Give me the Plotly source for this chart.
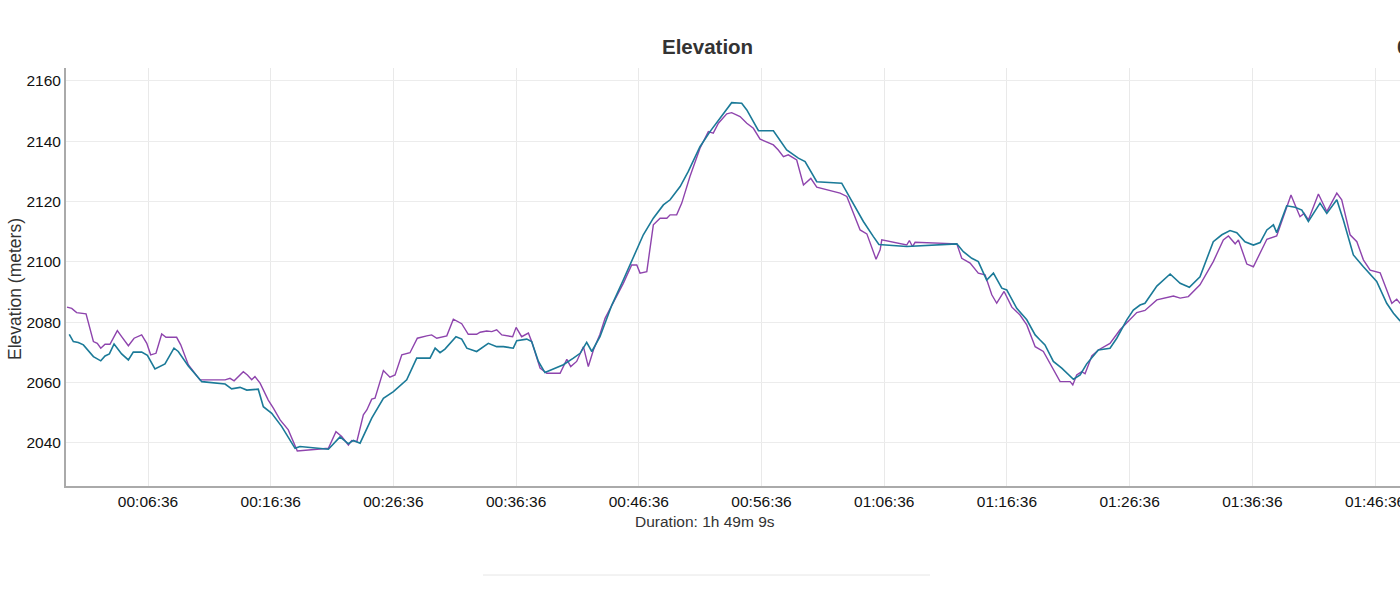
import plotly.graph_objects as go

# Purple series (seconds from start, elevation in meters)
purple_t = [0, 23, 47, 93, 129, 148, 165, 186, 210, 223, 246, 267, 300, 328, 365, 390, 409, 435, 463, 484,
            536, 556, 593, 650, 773, 797, 817, 862, 882, 903, 919, 944, 984, 1009, 1042, 1082, 1126, 1278, 1315,
            1343, 1376, 1392, 1417, 1449, 1466, 1490, 1506, 1547, 1579, 1604, 1637, 1677, 1713, 1759, 1783,
            1808, 1857, 1889, 1930, 1962, 2003, 2020, 2052, 2077, 2101, 2126, 2179, 2196, 2223, 2256, 2272,
            2313, 2346, 2411, 2444, 2463, 2492, 2525, 2549, 2574, 2606, 2631, 2671, 2720, 2761, 2786, 2802,
            2835, 2867, 2900, 2933, 2949, 2981, 3006, 3046, 3095, 3136, 3160, 3185, 3226, 3250, 3291, 3324,
            3356, 3389, 3454, 3478, 3503, 3527, 3568, 3601, 3637, 3666, 3780, 3813, 3829, 3878, 3911, 3935,
            3956, 3976, 3984, 4106, 4119, 4134, 4147, 4351, 4375, 4416, 4456, 4489, 4522, 4546, 4582, 4620,
            4660, 4693, 4734, 4774, 4815, 4856, 4905, 4918, 4937, 4962, 4978, 5011, 5043, 5100, 5149, 5198,
            5231, 5271, 5329, 5410, 5443, 5483, 5540, 5605, 5654, 5679, 5712, 5728, 5769, 5801, 5834, 5867,
            5915, 5948, 5985, 6005, 6029, 6049, 6070, 6119, 6160, 6209, 6233, 6274, 6307, 6339, 6372, 6421,
            6453, 6478, 6502, 6518, 6549]
purple_e = [2085.0, 2084.6, 2083.2, 2082.8, 2073.6, 2073.0, 2071.4, 2072.7, 2072.7, 2074.4, 2077.2, 2075.2,
            2072.2, 2074.7, 2075.8, 2073.0, 2069.2, 2069.7, 2076.1, 2075.0, 2075.0, 2072.5, 2065.9, 2060.9,
            2060.9, 2061.4, 2060.6, 2063.6, 2062.5, 2060.9, 2062.0, 2059.8, 2054.2, 2051.5, 2047.6, 2044.3,
            2037.3, 2038.2, 2043.7, 2042.1, 2039.3, 2040.8, 2040.4, 2049.3, 2050.9, 2054.5, 2054.8, 2064.0,
            2061.8, 2062.5, 2069.2, 2069.9, 2074.7, 2075.5, 2075.8, 2074.7, 2075.5, 2081.0, 2079.5, 2076.0,
            2076.0, 2076.7, 2077.1, 2076.9, 2077.5, 2075.8, 2075.2, 2078.3, 2075.2, 2076.4, 2073.6, 2064.8,
            2063.1, 2063.1, 2067.7, 2065.3, 2067.0, 2071.9, 2065.3, 2070.8, 2076.0, 2081.3, 2086.3, 2092.9,
            2099.0, 2099.0, 2096.3, 2096.8, 2112.3, 2114.5, 2114.5, 2115.6, 2115.6, 2119.5, 2128.3, 2137.7,
            2143.2, 2142.7, 2146.0, 2149.1, 2149.5, 2148.2, 2146.0, 2144.3, 2140.7, 2138.8, 2137.1, 2134.9,
            2135.5, 2133.8, 2125.5, 2127.7, 2124.8, 2122.8, 2121.7, 2118.9, 2110.6, 2109.3, 2105.1, 2100.9,
            2104.0, 2107.3, 2105.6, 2107.1, 2105.1, 2106.5, 2106.0, 2101.2, 2099.6, 2096.3, 2095.7, 2089.1,
            2086.3, 2090.2, 2085.0, 2082.4, 2079.1, 2071.9, 2070.3, 2065.3, 2060.3, 2060.3, 2059.2, 2062.5,
            2063.6, 2062.9, 2068.8, 2070.8, 2073.0, 2077.5, 2081.0, 2083.2, 2083.9, 2087.4, 2088.7, 2088.0,
            2088.5, 2092.4, 2100.1, 2107.3, 2108.6, 2106.0, 2107.3, 2099.3, 2098.4, 2102.9, 2107.5, 2108.6,
            2115.0, 2122.2, 2118.9, 2115.0, 2116.1, 2113.9, 2122.5, 2116.7, 2122.8, 2120.6, 2109.0, 2106.7,
            2100.7, 2097.3, 2096.4, 2090.7, 2086.3, 2087.6, 2086.3, 2085.5]

# Teal series
teal_t = [11, 31, 55, 80, 129, 165, 186, 207, 230, 267, 300, 324, 365, 393, 430, 479, 523, 544, 593, 659,
          773, 805, 846, 879, 935, 960, 1001, 1050, 1115, 1139, 1278, 1335, 1376, 1400, 1433, 1490, 1547,
          1596, 1661, 1710, 1775, 1800, 1824, 1848, 1902, 1930, 1955, 2003, 2060, 2101, 2134, 2182, 2199,
          2248, 2272, 2305, 2337, 2386, 2427, 2476, 2509, 2541, 2566, 2606, 2664, 2720, 2769, 2818, 2867,
          2916, 2949, 2998, 3038, 3095, 3144, 3201, 3250, 3299, 3324, 3381, 3454, 3519, 3576, 3609, 3666,
          3788, 3845, 3894, 3943, 3970, 4106, 4351, 4383, 4424, 4456, 4497, 4530, 4571, 4595, 4644, 4693,
          4734, 4758, 4782, 4823, 4864, 4921, 4954, 4986, 5043, 5100, 5133, 5182, 5214, 5247, 5271, 5329,
          5394, 5443, 5488, 5540, 5605, 5647, 5687, 5720, 5760, 5801, 5834, 5867, 5899, 5915, 5964, 6005,
          6038, 6070, 6127, 6160, 6209, 6241, 6290, 6339, 6404, 6453, 6486, 6518, 6549]
teal_e = [2076.0, 2073.6, 2073.3, 2072.5, 2068.6, 2067.2, 2068.8, 2069.5, 2072.8, 2069.5, 2067.5, 2070.1,
          2070.1, 2069.0, 2064.5, 2066.2, 2071.4, 2070.3, 2065.5, 2060.3, 2059.5, 2057.9, 2058.4, 2057.5,
          2057.8, 2052.0, 2049.8, 2045.4, 2038.2, 2038.8, 2037.9, 2042.0, 2039.7, 2040.8, 2039.9, 2048.2,
          2054.8, 2057.0, 2060.9, 2068.1, 2068.1, 2071.4, 2069.9, 2071.1, 2075.2, 2074.4, 2071.4, 2070.3,
          2073.0, 2071.9, 2071.9, 2071.4, 2073.9, 2074.4, 2073.6, 2067.0, 2063.3, 2064.8, 2065.9, 2068.1,
          2069.7, 2073.3, 2070.3, 2075.2, 2085.7, 2094.0, 2101.8, 2109.0, 2114.5, 2118.9, 2120.6, 2125.0,
          2130.0, 2138.2, 2143.2, 2148.4, 2152.8, 2152.6, 2150.4, 2143.5, 2143.5, 2137.1, 2134.4, 2133.3,
          2126.6, 2126.1, 2119.5, 2113.4, 2108.4, 2105.8, 2105.1, 2106.0, 2103.4, 2101.2, 2100.1, 2094.0,
          2096.3, 2091.3, 2090.7, 2084.6, 2080.8, 2075.8, 2074.1, 2072.5, 2067.0, 2064.8, 2061.1, 2062.5,
          2066.2, 2070.8, 2071.4, 2074.7, 2080.8, 2084.0, 2085.7, 2086.3, 2092.0, 2096.0, 2092.9, 2091.6,
          2095.1, 2106.7, 2109.0, 2110.4, 2109.7, 2106.7, 2105.6, 2106.4, 2110.6, 2112.3, 2109.7, 2118.6,
          2118.1, 2117.2, 2113.4, 2119.5, 2116.1, 2120.6, 2113.9, 2102.3, 2098.4, 2093.5, 2086.3, 2083.0,
          2080.5, 2079.5]

x_tick_vals = [396, 996, 1596, 2196, 2796, 3396, 3996, 4596, 5196, 5796, 6396]
x_tick_text = ["00:06:36", "00:16:36", "00:26:36", "00:36:36", "00:46:36", "00:56:36",
               "01:06:36", "01:16:36", "01:26:36", "01:36:36", "01:46:36"]
y_tick_vals = [2040, 2060, 2080, 2100, 2120, 2140, 2160]

FONT = "Liberation Sans, Arial, Helvetica, sans-serif"
W, H = 1400, 602
ML, MT = 66, 68
PB = 486
MB = H - PB
PW = W - ML
PH = PB - MT


def px_x(x):
    return (x - ML) / PW


def px_y(y):
    return (PB - y) / PH


fig = go.Figure()
fig.add_trace(go.Scatter(x=purple_t, y=purple_e, mode="lines",
                         line=dict(color="#8e44ad", width=1.4), hoverinfo="skip"))
fig.add_trace(go.Scatter(x=teal_t, y=teal_e, mode="lines",
                         line=dict(color="#1b7a98", width=1.6), hoverinfo="skip"))

fig.update_layout(
    width=W, height=H,
    margin=dict(l=ML, r=0, t=MT, b=MB, autoexpand=False),
    paper_bgcolor="white", plot_bgcolor="white",
    showlegend=False,
    font=dict(family=FONT, color="#111"),
    xaxis=dict(range=[-5, 6518], tickmode="array", tickvals=x_tick_vals, ticktext=x_tick_text,
               showgrid=True, gridcolor="#e9e9e9", gridwidth=1, zeroline=False,
               showline=True, linecolor="#aaaaaa", linewidth=2, ticks="",
               ticklabeloverflow="allow",
               tickfont=dict(size=15.5, color="#111", family=FONT)),
    yaxis=dict(range=[2025.7, 2164.3], tickmode="array", tickvals=y_tick_vals,
               showgrid=True, gridcolor="#ececec", gridwidth=1, zeroline=False,
               showline=True, linecolor="#aaaaaa", linewidth=2, ticks="",
               tickfont=dict(size=15.5, color="#111", family=FONT)),
)

# Axis titles
fig.add_annotation(text="Duration: 1h 49m 9s", xref="paper", yref="paper",
                   x=px_x(705), y=px_y(521), xanchor="center", yanchor="middle",
                   showarrow=False, font=dict(size=15.5, color="#333", family=FONT))
fig.add_annotation(text="Elevation (meters)", xref="paper", yref="paper", textangle=-90,
                   x=px_x(15), y=px_y(289), xanchor="center", yanchor="middle",
                   showarrow=False, font=dict(size=17.5, color="#333", family=FONT))

# Title and clipped heading text
fig.add_annotation(text="<b>Elevation</b>", xref="paper", yref="paper",
                   x=px_x(707), y=px_y(46), xanchor="center", yanchor="middle",
                   showarrow=False, font=dict(size=20.5, color="#333", family=FONT))
fig.add_annotation(text="<b>0</b>", xref="paper", yref="paper",
                   x=px_x(1395), y=px_y(46), xanchor="left", yanchor="middle",
                   showarrow=False, font=dict(size=20.5, color="#333", family=FONT))

# faint separator line below the chart
fig.add_shape(type="line", xref="paper", yref="paper",
              x0=px_x(483), x1=px_x(930), y0=px_y(575), y1=px_y(575),
              line=dict(color="#e6e6e6", width=1))

fig.write_html("out.html", config={"displayModeBar": False},
               post_script="document.body.style.margin='0';document.body.style.overflow='hidden';")
